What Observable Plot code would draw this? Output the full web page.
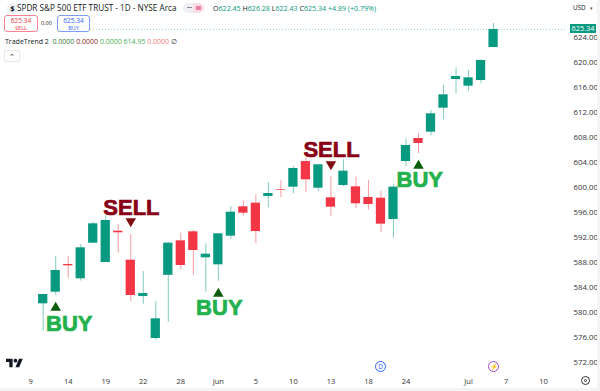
<!DOCTYPE html>
<html>
<head>
<meta charset="utf-8">
<script src="https://cdn.jsdelivr.net/npm/d3@7"></script>
<script src="https://cdn.jsdelivr.net/npm/@observablehq/plot@0.6"></script>
<style>
html,body{margin:0;padding:0;background:#fff;overflow:hidden}
#wrap{position:relative;width:600px;height:391px;font-family:"Open Sans",Roboto,sans-serif;color:#131722;overflow:hidden}
#chart svg{display:block}
.o{position:absolute;white-space:nowrap;line-height:1}
.box{position:absolute;top:15px;height:17px;border-radius:3px;background:#fff;text-align:center;box-sizing:border-box;padding-top:1px}
.box b{display:block;font-weight:400;font-size:6.5px;line-height:8px}
.box i{display:block;font-style:normal;font-size:5.5px;line-height:7px}
</style>
</head>
<body>
<div id="wrap">
<div id="chart"></div>
<div class="o" style="left:7px;top:3px;width:11px;height:11px;border-radius:50%;background:#eef0f3;font-size:7.5px;line-height:11px;text-align:center;font-weight:700">$</div>
<div class="o" style="left:17px;top:2px;font-size:8.2px;line-height:11px">SPDR S&amp;P 500 ETF TRUST - 1D - NYSE Arca</div>
<div class="o" style="left:183px;top:3px;width:21px;height:10px;border-radius:5px;background:linear-gradient(90deg,#eef0f3 50%,#fbdbe3 50%)"></div>
<div class="o" style="left:187px;top:7px;width:5px;height:1.4px;background:#8a8e98"></div>
<div class="o" style="left:196px;top:6px;width:5px;height:4px;background:#ee7fa0"></div>
<div class="o" style="left:213px;top:2.5px;font-size:7.1px;line-height:10px;color:#089981"><span style="color:#131722">O</span>622.45 <span style="color:#131722">H</span>626.28 <span style="color:#131722">L</span>622.43 <span style="color:#131722">C</span>625.34 +4.89 (+0.79%)</div>
<div class="box" style="left:4px;width:34px;border:1px solid #f7858f;color:#f23645"><b>625.34</b><i>SELL</i></div>
<div class="o" style="left:41px;top:21px;font-size:5.5px">0.00</div>
<div class="box" style="left:57px;width:33px;border:1px solid #7d9df5;color:#2962ff"><b>625.34</b><i>BUY</i></div>
<div class="o" style="left:5px;top:37px;font-size:7px;line-height:9px">TradeTrend 2&nbsp; <span style="color:#2e7d32">0.0000</span> <span style="color:#8b1c1c">0.0000</span> <span style="color:#4caf50">0.0000</span> <span style="color:#3fae5a">614.95</span> <span style="color:#f77c80">0.0000</span> <span style="color:#333">∅</span></div>
<div class="o" style="left:4px;top:50px;width:14px;height:10px;border:1px solid #e6e8ec;border-radius:2px;font-size:7px;line-height:11px;text-align:center">⌃</div>
<div class="o" style="left:572px;top:3px;width:24px;height:10px;font-size:6.3px;line-height:10px;box-shadow:0 0 2px #e8e9ec;border-radius:2px;padding-left:1px;box-sizing:border-box">USD <span style="font-size:4.5px;color:#555;margin-left:3px">▾</span></div>
<svg class="o" style="left:6px;top:358px" width="17" height="10" viewBox="0 3.5 36 19"><path fill="#131722" d="M14 22H7V11H0V4h14v18zM28 22h-8l7.5-18h8L28 22z"/><circle fill="#131722" cx="20" cy="8" r="4"/></svg>
<div class="o" style="left:375px;top:361px;width:9px;height:9px;border:1.2px solid #2962ff;border-radius:50%;color:#2962ff;font-size:6.5px;line-height:9px;text-align:center">D</div>
<div class="o" style="left:488px;top:361px;width:9px;height:9px;border:1.2px solid #ab47bc;border-radius:50%;color:#ab47bc;font-size:6.5px;line-height:9px;text-align:center">⚡</div>
<div class="o" style="left:581px;top:376px;width:7px;height:7px;border:1px solid #333;border-radius:50%"></div>
<div class="o" style="left:584px;top:379px;width:3px;height:3px;border:1px solid #333;border-radius:50%;box-sizing:border-box"></div>
<div class="o" style="left:597px;top:0;width:3px;height:391px;background:#f3f4f6"></div>
<div class="o" style="left:0;top:388px;width:600px;height:3px;background:#f3f4f6"></div>
</div>
<script>
const index = d3.range(37);
const open  = [581.44,583.30,587.73,585.44,591.14,588.05,593.06,588.42,582.60,575.89,586.00,591.52,592.96,588.80,587.68,592.26,596.96,597.54,598.60,599.73,600.10,604.20,599.94,598.40,600.37,600.16,598.45,598.34,594.93,604.21,607.89,608.90,612.74,617.33,616.26,617.17,622.45];
const close = [582.93,586.77,587.52,590.40,594.24,594.77,592.80,582.77,583.09,579.04,591.14,587.57,589.97,589.38,592.64,596.10,595.94,593.00,599.09,599.62,603.09,601.28,603.68,596.90,602.66,597.44,597.33,594.18,600.10,606.77,607.09,611.84,614.88,617.81,617.60,620.37,625.34];
const high  = [582.93,589.06,589.00,590.93,594.45,595.52,594.08,592.53,586.60,581.81,591.25,592.74,593.17,591.04,592.64,597.00,597.92,598.88,600.85,601.12,603.41,604.80,603.68,601.81,604.48,601.70,601.17,599.46,600.53,607.84,608.64,612.37,616.37,619.20,618.77,620.48,626.28];
const low   = [577.06,582.82,585.54,585.06,591.14,588.05,589.54,581.81,581.38,575.62,578.50,586.93,586.02,583.20,585.06,591.78,595.52,591.04,596.80,598.45,599.04,599.25,599.40,595.41,600.20,596.69,596.48,592.90,591.94,603.41,605.49,608.37,610.88,615.04,615.52,616.64,622.43];

const tickIndex  = [-1,2,5,8,11,14,17,20,23,26,29,34,37,40];
const tickLabels = ["9","14","19","22","28","Jun","5","10","13","18","24","Jul","7","10"];
const priceTicks = d3.range(572, 625, 4);
const lastPrice = 625.34;

const signalIndex = [1,7,14,23,30];
const signalPrice = [580.8,594.66,583.04,603.77,603.52];
const signalType  = ["BUY","SELL","BUY","SELL","BUY"];
const labelIndex  = [2.08,7.05,14.08,23.05,30.1];
const labelPrice  = [578.24,596.85,580.7,606.13,601.33];

const candles = index.map(i => ({i, open:open[i], close:close[i], high:high[i], low:low[i], up:close[i] >= open[i]}));
const signals = signalIndex.map((s,k) => ({i:s, p:signalPrice[k], type:signalType[k], li:labelIndex[k], lp:labelPrice[k]}));
const GREEN = "#089981", RED = "#f23645";
const col = d => d.up ? GREEN : RED;
const hw = 0.37;
const labelColor = d => d.type==="BUY" ? "#22b14c" : "#880015";

const chart = Plot.plot({
  width: 600, height: 391,
  marginLeft: 0, marginRight: 34, marginTop: 22, marginBottom: 19,
  style: {background:"transparent", fontFamily:"'Open Sans',Roboto,sans-serif"},
  x: {type:"linear", domain:[-3.413, 41.83], axis:null},
  y: {type:"linear", domain:[570.45, 626.45], axis:null},
  marks: [
    Plot.ruleY([lastPrice], {x1:3.78, x2:41.83, stroke:GREEN, strokeOpacity:.55, strokeWidth:.8, strokeDasharray:"1,2"}),
    Plot.ruleX(candles, {x:"i", y1:"low", y2:"high", stroke:col, strokeWidth:1, strokeOpacity:.5}),
    Plot.rect(candles, {x1:d=>d.i-hw, x2:d=>d.i+hw, y1:"open", y2:"close", fill:col}),
    Plot.dot(signals, {filter:d=>d.type==="BUY", x:"i", y:"p", symbol:"triangle", r:3.9, fill:"#0b5c0b"}),
    Plot.dot(signals, {filter:d=>d.type==="SELL", x:"i", y:"p", symbol:"triangle", r:3.9, fill:"#7f0d12", rotate:180}),
    Plot.text(signals, {x:"li", y:"lp", text:"type", fontFamily:"'Liberation Sans',Arial,sans-serif", fontWeight:700, fontSize:22,
      fill:labelColor, stroke:labelColor, strokeWidth:.7, strokeLinejoin:"miter", textAnchor:"middle", lineAnchor:"middle"}),
    Plot.axisY(priceTicks, {anchor:"right", tickSize:0, tickPadding:7, fontSize:7.8, fill:"#333", tickFormat:d=>d.toFixed(2), label:null}),
    Plot.axisX(tickIndex, {anchor:"bottom", tickSize:0, tickPadding:6, fontSize:7.5, fill:"#333", tickFormat:d=>tickLabels[tickIndex.indexOf(d)], label:null})
  ]
});
document.getElementById("chart").appendChild(chart);

const tag = document.createElement("div");
tag.className = "o";
tag.textContent = lastPrice.toFixed(2);
tag.style.cssText = "left:570px;width:26px;height:9px;line-height:9px;text-align:center;font-size:7.4px;color:#fff;background:"+GREEN+";top:"+(chart.scale("y").apply(lastPrice)-4.5)+"px";
document.getElementById("wrap").appendChild(tag);
</script>
</body>
</html>
